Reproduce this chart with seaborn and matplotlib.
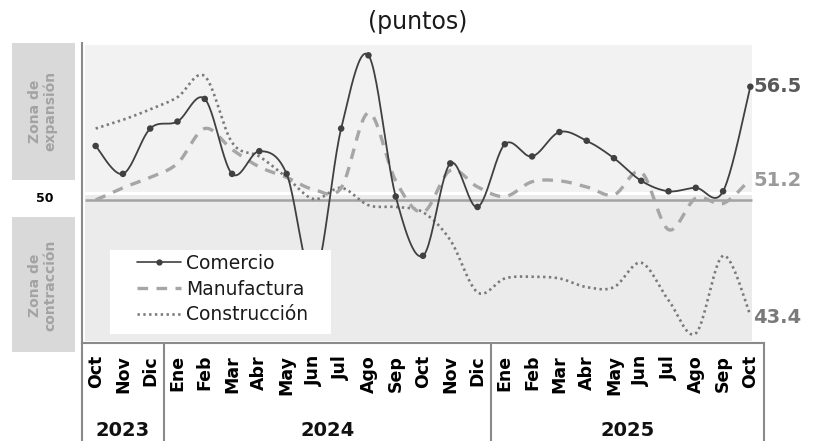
import numpy as np
import pandas as pd
import matplotlib
matplotlib.use("Agg")
import matplotlib.pyplot as plt
from matplotlib.patches import Rectangle
from matplotlib.lines import Line2D
import seaborn as sns

# ---------------- data ----------------
months = ['Oct', 'Nov', 'Dic', 'Ene', 'Feb', 'Mar', 'Abr', 'May', 'Jun', 'Jul', 'Ago', 'Sep',
          'Oct', 'Nov', 'Dic', 'Ene', 'Feb', 'Mar', 'Abr', 'May', 'Jun', 'Jul', 'Ago', 'Sep', 'Oct']
years = ['2023', '2024', '2025']
year_sizes = [3, 12, 10]
comercio = [53.1, 51.5, 54.1, 54.5, 55.8, 51.5, 52.8, 51.5, 45.5, 54.1, 58.3, 50.2, 46.8,
            52.1, 49.6, 53.2, 52.5, 53.9, 53.4, 52.4, 51.1, 50.5, 50.7, 50.5, 56.5]
manufactura = [50.0, 50.7, 51.3, 52.1, 54.1, 52.9, 51.9, 51.3, 50.6, 50.7, 55.0, 51.1, 49.3,
               51.7, 50.75, 50.2, 51.05, 51.1, 50.75, 50.3, 51.6, 48.3, 50.1, 49.8, 51.2]
construccion = [54.1, 54.6, 55.2, 55.9, 57.1, 53.3, 52.5, 51.3, 50.05, 50.7, 49.7, 49.6, 49.3,
                47.7, 44.7, 45.5, 45.6, 45.5, 45.0, 45.0, 46.4, 44.25, 42.35, 46.8, 43.4]
series_names = ['Comercio', 'Manufactura', 'Construcción']
threshold = 50

# ---------------- helpers ----------------
W, H = 819, 441


def smooth(vals, n=24):
    """Excel-style smoothed line (cubic Bezier through every point)."""
    x = np.arange(len(vals), dtype=float)
    P = np.column_stack([x, np.asarray(vals, float)])
    out = []
    for i in range(len(P) - 1):
        p0 = P[i - 1] if i > 0 else P[i]
        p1, p2 = P[i], P[i + 1]
        p3 = P[i + 2] if i + 2 < len(P) else P[i + 1]
        c1 = p1 + (p2 - p0) / 6.0
        c2 = p2 - (p3 - p1) / 6.0
        t = np.linspace(0, 1, n, endpoint=(i == len(P) - 2))[:, None]
        B = (1 - t) ** 3 * p1 + 3 * (1 - t) ** 2 * t * c1 + 3 * (1 - t) * t ** 2 * c2 + t ** 3 * p2
        out.append(B)
    B = np.vstack(out)
    return B[:, 0], B[:, 1]


sns.set_theme(style='white')
plt.rcParams['font.family'] = ['DejaVu Sans']

fig = plt.figure(figsize=(W / 100, H / 100), dpi=100)
fig.patch.set_facecolor('white')

ax_l, ax_r, ax_t, ax_b = 82, 764, 43, 343
ax = fig.add_axes([ax_l / W, 1 - ax_b / H, (ax_r - ax_l) / W, (ax_b - ax_t) / H])
ax.set_facecolor('white')
n = len(months)
ax.set_xlim(-0.5, n - 0.5)
ppu = 17.43
y0 = 200.0
ax.set_ylim(threshold - (ax_b - y0) / ppu, threshold + (y0 - ax_t) / ppu)


def v_of(ypx):
    return threshold + (y0 - ypx) / ppu


def x_of(xpx):
    return (xpx - ax_l) / ((ax_r - ax_l) / n) - 0.5


# zones
xa, xb = x_of(85), x_of(752)
ax.add_patch(Rectangle((xa, v_of(192)), xb - xa, v_of(45) - v_of(192),
                       facecolor='#f2f2f2', edgecolor='none', zorder=0))
ax.add_patch(Rectangle((xa, v_of(341)), xb - xa, v_of(194.5) - v_of(341),
                       facecolor='#ebebeb', edgecolor='none', zorder=0))
ax.plot([xa, xb], [threshold, threshold], color='#a3a3a3', lw=1.8, zorder=1,
        solid_capstyle='butt')

# series
xs = np.arange(n)
sx, sy = smooth(construccion)
sns.lineplot(x=sx, y=sy, ax=ax, color='#7a7a7a', lw=1.9, estimator=None, sort=False,
             linestyle=(0, (0.9, 1.3)), zorder=2)
sx, sy = smooth(manufactura)
sns.lineplot(x=sx, y=sy, ax=ax, color='#a6a6a6', lw=2.4, estimator=None, sort=False,
             linestyle=(0, (3.2, 2.5)), zorder=3)
sx, sy = smooth(comercio)
sns.lineplot(x=sx, y=sy, ax=ax, color='#404040', lw=1.3, estimator=None, sort=False, zorder=4)
sns.scatterplot(x=xs, y=comercio, ax=ax, color='#404040', s=22, edgecolor='none', zorder=5)

# spines / ticks
for s in ['top', 'right']:
    ax.spines[s].set_visible(False)
for s in ['left', 'bottom']:
    ax.spines[s].set_color('#8a8a8a')
    ax.spines[s].set_linewidth(1.5)
ax.set_xticks([])
ax.set_yticks([])
ax.set_xlabel('')
ax.set_ylabel('')

# legend: white box + legend entries
lb = Rectangle((x_of(110), v_of(334)), x_of(331) - x_of(110), v_of(250) - v_of(334),
               facecolor='white', edgecolor='none', zorder=6)
ax.add_patch(lb)
handles = [Line2D([], [], color='#404040', lw=1.2, marker='o', markersize=3.5),
           Line2D([], [], color='#a6a6a6', lw=2.4, linestyle=(0, (3.2, 2.5))),
           Line2D([], [], color='#7a7a7a', lw=1.9, linestyle=(0, (0.9, 1.3)))]
leg = ax.legend(handles, series_names, loc='upper left',
                bbox_to_anchor=((137 - ax_l) / (ax_r - ax_l), 1 - (254 - ax_t) / (ax_b - ax_t)),
                frameon=False, fontsize=13.5, handlelength=2.35, handletextpad=0.28,
                labelspacing=0.36, borderpad=0, borderaxespad=0)
leg.set_zorder(7)
for t in leg.get_texts():
    t.set_color('#1a1a1a')

# end labels
ax.text(x_of(753), comercio[-1], '56.5', color='#595959', fontsize=14, fontweight='bold',
        va='center', ha='left', clip_on=False)
ax.text(x_of(753), manufactura[-1] - 0.1, '51.2', color='#9a9a9a', fontsize=14, fontweight='bold',
        va='center', ha='left', clip_on=False)
ax.text(x_of(753), construccion[-1] - 0.15, '43.4', color='#7a7a7a', fontsize=14, fontweight='bold',
        va='center', ha='left', clip_on=False)

# category axis labels
trans = ax.get_xaxis_transform()
hh = ax_b - ax_t
for i, m in enumerate(months):
    ax.text(i, -(355 - ax_b) / hh, m, transform=trans, rotation=90, ha='center', va='top',
            fontsize=12.5, fontweight='bold', color='black')
start = 0
for yr, sz in zip(years, year_sizes):
    c = start + (sz - 1) / 2
    ax.text(c, -(431 - ax_b) / hh, yr, transform=trans, ha='center', va='center',
            fontsize=14, fontweight='bold', color='#111111')
    start += sz
    ax.plot([start - 0.5, start - 0.5], [0, -(H - ax_b) / hh], transform=trans, clip_on=False,
            color='#8a8a8a', lw=1.5)
ax.plot([-0.5, -0.5], [0, -(H - ax_b) / hh], transform=trans, clip_on=False,
        color='#8a8a8a', lw=1.5)

# left zone panel
fig.patches.append(Rectangle((12 / W, 1 - 180 / H), 63 / W, 137 / H, transform=fig.transFigure,
                             facecolor='#d9d9d9', edgecolor='none'))
fig.patches.append(Rectangle((12 / W, 1 - 352 / H), 63 / W, 135 / H, transform=fig.transFigure,
                             facecolor='#d9d9d9', edgecolor='none'))
fig.text(43 / W, 1 - 111 / H, 'Zona de\nexpansión', rotation=90, ha='center', va='center',
         fontsize=10, fontweight='bold', color='#a3a3a3', linespacing=1.1)
fig.text(43 / W, 1 - 285 / H, 'Zona de\ncontracción', rotation=90, ha='center', va='center',
         fontsize=10, fontweight='bold', color='#a3a3a3', linespacing=1.1)
fig.text(45 / W, 1 - 198 / H, str(threshold), ha='center', va='center',
         fontsize=9, fontweight='bold', color='black')

# title
fig.text(418 / W, 1 - 22 / H, '(puntos)', ha='center', va='center', fontsize=17, color='#1a1a1a')

fig.savefig('out.png', dpi=100, facecolor='white')
